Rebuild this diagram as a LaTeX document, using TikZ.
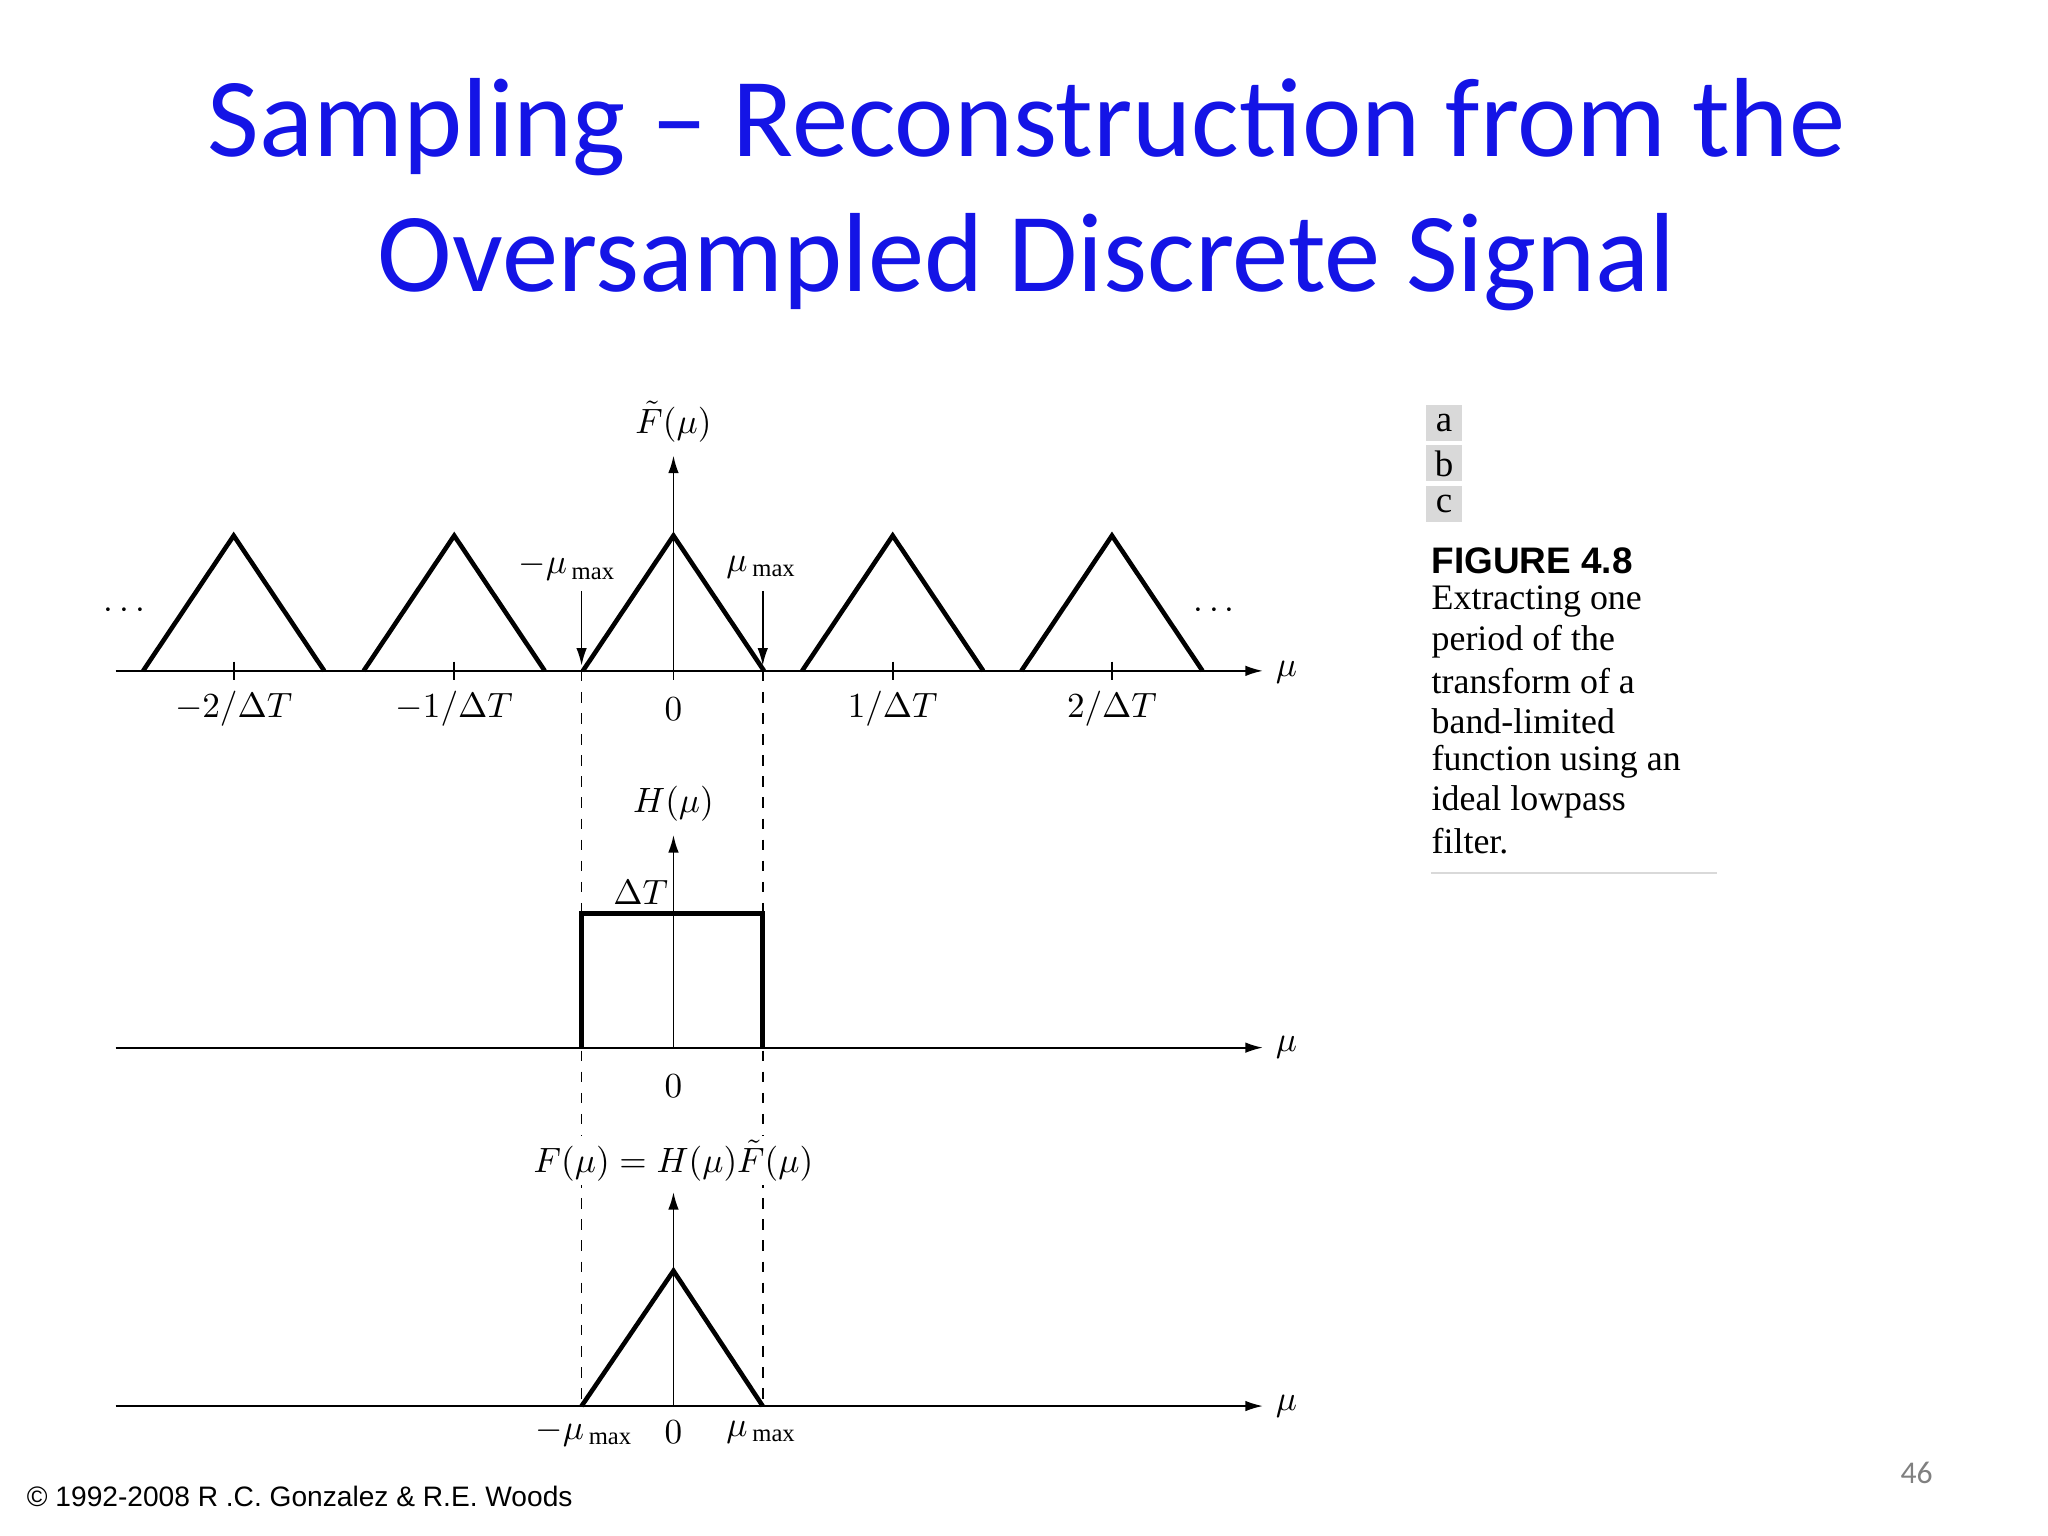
\documentclass[tikz,border=0pt]{standalone}
\usepackage{fontspec}
\usepackage{amsmath}
\setmainfont{Liberation Serif}
\newfontfamily\titlefont{Carlito}
\newfontfamily\capsans{Liberation Sans}
\usetikzlibrary{arrows.meta}
\definecolor{titleblue}{RGB}{20,20,230}
\begin{document}
\begin{tikzpicture}[x=0.013128cm,y=-0.013128cm,
  ax/.style={-{Latex[length=5pt,width=3pt]},line width=0.5pt},
  tri/.style={line width=1.3pt},
  dsh/.style={dashed,line width=0.5pt},
  lbl/.style={font=\fontsize{10}{12}\selectfont,inner sep=1pt},
  captxt/.style={font=\fontsize{10.2}{12}\selectfont,anchor=west,inner sep=0pt},
  letbox/.style={fill=black!15,font=\fontsize{10.5}{12}\selectfont,minimum width=0.36cm,minimum height=0.36cm,inner sep=0pt}]
\useasboundingbox (0,0) rectangle (1560,1170);
\node[text=titleblue,font=\titlefont\fontsize{32}{38}\selectfont] (t1) at (782,97) {Sampling \textendash{} Reconstruction from the};
\node[text=titleblue,font=\titlefont\fontsize{32}{38}\selectfont] (t2) at (782,200) {Oversampled Discrete Signal};
% dashed
\draw[dsh] (443,511) -- (443,1071);
\draw[dsh] (581,511) -- (581,1071);
% panel a
\coordinate (a0) at (88,511); \coordinate (a1) at (962,511);
\draw[ax] (a0) -- (a1);
\coordinate (av0) at (513,511); \coordinate (av1) at (513,347);
\draw[ax] (av0) -- (av1);
\foreach \c/\l in {178/{-2/\Delta T},346/{-1/\Delta T},513/{},680/{1/\Delta T},847/{2/\Delta T}}{
  \draw[tri] (\c-69,511) -- (\c,408) -- (\c+69,511);
  \draw[line width=0.5pt] (\c,504) -- (\c,518);
  \node[lbl] at (\c,540) {$\l$};
}
\node[lbl] (z0) at (513,540) {$0$};
\node[lbl] (dl) at (97,465) {$\cdots$};
\node[lbl] (dr) at (927,465) {$\cdots$};
\node[lbl] (mua) at (980,512) {$\mu$};
\node[lbl] (Fa) at (513,321) {$\tilde F(\mu)$};
\node[lbl] (mm) at (432,432) {$-\mu_{\,\mathrm{max}}$};
\node[lbl] (mp) at (580,432) {$\mu_{\,\mathrm{max}}$};
\draw[ax] (443,450) -- (443,507);
\draw[ax] (581,450) -- (581,507);
% panel b
\draw[ax] (88,798) -- (962,798);
\draw[ax] (513,798) -- (513,636);
\draw[line width=1.5pt] (443,798) -- (443,696) -- (581,696) -- (581,798);
\node[lbl] (Hb) at (513,612) {$H(\mu)$};
\node[lbl] (dT) at (488,680) {$\Delta T$};
\node[lbl] (z1) at (513,827) {$0$};
\node[lbl] (mub) at (980,798) {$\mu$};
% panel c
\draw[ax] (88,1071) -- (962,1071);
\draw[ax] (513,1071) -- (513,908);
\draw[tri] (443,1071) -- (513,968) -- (581,1071);
\node[lbl,fill=white] (Fc) at (513,884) {$F(\mu) = H(\mu)\tilde F(\mu)$};
\node[lbl] (mm2) at (445,1091) {$-\mu_{\,\mathrm{max}}$};
\node[lbl] (z2) at (513,1091) {$0$};
\node[lbl] (mp2) at (580,1091) {$\mu_{\,\mathrm{max}}$};
\node[lbl] (muc) at (980,1071) {$\mu$};
% caption
\node[letbox] (la) at (1100,322) {a};
\node[letbox] (lb) at (1100,353) {b};
\node[letbox] (lc) at (1100,384) {c};
\node[captxt,font=\capsans\bfseries\fontsize{10.5}{12}\selectfont] (fig) at (1090,427) {FIGURE 4.8};
\foreach \i/\t in {0/Extracting one,1/period of the,2/transform of a,3/band-limited,4/function using an,5/ideal lowpass,6/filter.}
  \node[captxt] at (1090,458+30.5*\i) {\t};
\draw[black!15,line width=0.6pt] (1090,665) -- (1308,665);
\node[anchor=west,font=\capsans\fontsize{8}{10}\selectfont,inner sep=0pt] (copy) at (20,1140) {\textcopyright{} 1992-2008 R .C. Gonzalez \& R.E. Woods};
\node[font=\titlefont\fontsize{9}{10}\selectfont,text=black!50] (pn) at (1460,1122) {46};
\end{tikzpicture}
\end{document}
